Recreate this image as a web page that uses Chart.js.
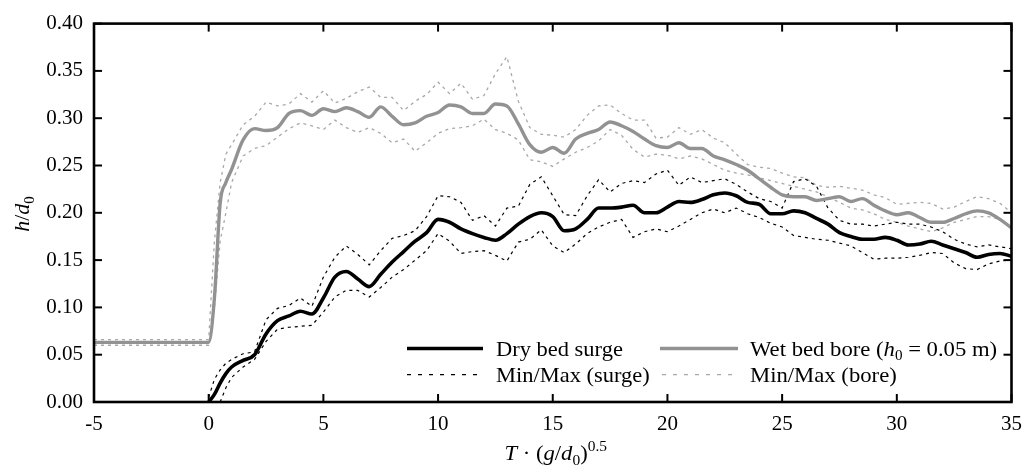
<!DOCTYPE html>
<html>
<head>
<meta charset="utf-8">
<script src="https://cdn.jsdelivr.net/npm/chart.js@4.4.0/dist/chart.umd.min.js"></script>
<style>
  html, body { margin: 0; padding: 0; background: #fff; }
</style>
</head>
<body>
<canvas id="chart" width="1032" height="466"></canvas>
<script>
// time axis, T·(g/d0)^0.5
var T = [-5, 0, 0.25, 0.5, 0.75,
  1, 1.5, 2, 2.5, 3, 3.5, 4, 4.5, 5,
  5.5, 6, 6.5, 7, 7.5, 8, 8.5, 9, 9.5, 10,
  10.5, 11, 11.5, 12, 12.5, 13, 13.5, 14, 14.5, 15,
  15.5, 16, 16.5, 17, 17.5, 18, 18.5, 19, 19.5, 20,
  20.5, 21, 21.5, 22, 22.5, 23, 23.5, 24, 24.5, 25,
  25.5, 26, 26.5, 27, 27.5, 28, 28.5, 29, 29.5, 30,
  30.5, 31, 31.5, 32, 32.5, 33, 33.5, 34, 34.5, 35];

// dry bed surge, h/d0
var dryMean = [null, 0, 0.008, 0.02, 0.03,
  0.037, 0.044, 0.05, 0.072, 0.086, 0.091, 0.096, 0.093, 0.11,
  0.132, 0.138, 0.13, 0.122, 0.135, 0.148, 0.159, 0.17, 0.179, 0.193,
  0.19, 0.183, 0.178, 0.174, 0.171, 0.178, 0.188, 0.196, 0.2, 0.196,
  0.181, 0.183, 0.193, 0.205, 0.205, 0.206, 0.208, 0.2, 0.2, 0.206,
  0.212, 0.211, 0.214, 0.219, 0.221, 0.218, 0.211, 0.209, 0.199, 0.199,
  0.202, 0.2, 0.194, 0.188, 0.179, 0.175, 0.172, 0.172, 0.174, 0.171,
  0.166, 0.167, 0.17, 0.166, 0.162, 0.158, 0.153, 0.156, 0.157, 0.154];
var dryMax = [null, 0.005, 0.024, 0.034, 0.041,
  0.045, 0.051, 0.053, 0.087, 0.099, 0.102, 0.11, 0.101, 0.132,
  0.153, 0.165, 0.156, 0.145, 0.16, 0.173, 0.176, 0.181, 0.196, 0.218,
  0.217, 0.211, 0.192, 0.197, 0.186, 0.205, 0.207, 0.23, 0.238, 0.218,
  0.198, 0.197, 0.218, 0.235, 0.222, 0.231, 0.234, 0.232, 0.241, 0.245,
  0.229, 0.238, 0.232, 0.234, 0.236, 0.23, 0.222, 0.215, 0.212, 0.205,
  0.233, 0.236, 0.228, 0.205, 0.192, 0.188, 0.188, 0.186, 0.188, 0.19,
  0.188, 0.188, 0.185, 0.18, 0.172, 0.167, 0.164, 0.166, 0.164, 0.162];
var dryMin = [null, null, null, 0, 0.015,
  0.026, 0.037, 0.045, 0.064, 0.077, 0.079, 0.08, 0.081, 0.095,
  0.111, 0.118, 0.118, 0.111, 0.121, 0.132, 0.14, 0.15, 0.16, 0.178,
  0.17, 0.157, 0.159, 0.16, 0.155, 0.149, 0.169, 0.172, 0.182, 0.165,
  0.158, 0.167, 0.178, 0.185, 0.19, 0.193, 0.174, 0.18, 0.183, 0.18,
  0.186, 0.193, 0.2, 0.204, 0.2, 0.205, 0.199, 0.195, 0.189, 0.185,
  0.176, 0.174, 0.172, 0.171, 0.168, 0.165, 0.158, 0.151, 0.152, 0.152,
  0.153, 0.155, 0.158, 0.157, 0.147, 0.141, 0.14, 0.146, 0.149, 0.15];

// wet bed bore (h0 = 0.05 m), h/d0
var wetMean = [0.063, 0.063, 0.11, 0.21, 0.232,
  0.246, 0.277, 0.289, 0.287, 0.29, 0.305, 0.308, 0.303, 0.31,
  0.307, 0.311, 0.307, 0.301, 0.312, 0.302, 0.293, 0.295, 0.302, 0.306,
  0.314, 0.312, 0.305, 0.305, 0.315, 0.313, 0.294, 0.272, 0.264, 0.269,
  0.263, 0.278, 0.284, 0.288, 0.296, 0.292, 0.286, 0.278, 0.271, 0.269,
  0.274, 0.268, 0.268, 0.26, 0.256, 0.251, 0.245, 0.236, 0.227, 0.219,
  0.217, 0.217, 0.213, 0.215, 0.217, 0.212, 0.215, 0.208, 0.202, 0.198,
  0.2, 0.195, 0.19, 0.19, 0.194, 0.199, 0.202, 0.2, 0.193, 0.184];
var wetMax = [0.066, 0.066, 0.17, 0.232, 0.262,
  0.272, 0.293, 0.302, 0.317, 0.313, 0.315, 0.326, 0.317, 0.329,
  0.316, 0.321, 0.328, 0.333, 0.322, 0.322, 0.308, 0.318, 0.325, 0.338,
  0.326, 0.337, 0.32, 0.324, 0.347, 0.365, 0.318, 0.29, 0.283, 0.282,
  0.28, 0.288, 0.303, 0.313, 0.314, 0.305, 0.298, 0.298, 0.279, 0.28,
  0.29, 0.283, 0.288, 0.279, 0.274, 0.262, 0.251, 0.248, 0.247, 0.242,
  0.238, 0.237, 0.229, 0.227, 0.228, 0.226, 0.224, 0.219, 0.216, 0.209,
  0.21, 0.211, 0.21, 0.204, 0.206, 0.212, 0.217, 0.215, 0.21, 0.2];
var wetMin = [0.06, 0.06, 0.1, 0.17, 0.2,
  0.232, 0.26, 0.268, 0.271, 0.28, 0.289, 0.295, 0.292, 0.288,
  0.298, 0.29, 0.285, 0.29, 0.284, 0.274, 0.278, 0.265, 0.274, 0.284,
  0.289, 0.29, 0.292, 0.299, 0.288, 0.284, 0.277, 0.256, 0.254, 0.249,
  0.257, 0.264, 0.269, 0.276, 0.288, 0.282, 0.267, 0.259, 0.262, 0.261,
  0.257, 0.26, 0.257, 0.251, 0.245, 0.242, 0.24, 0.237, 0.234, 0.231,
  0.228, 0.225, 0.222, 0.217, 0.211, 0.205, 0.203, 0.199, 0.193, 0.19,
  0.186, 0.183, 0.18, 0.184, 0.19, 0.193, 0.196, 0.196, 0.193, 0.183];

var FONT = '"Liberation Serif", "Times New Roman", serif';
var BLACK = '#000000';
var GREY = '#929292';
var GREY_DOT = '#a8a8a8';

function pts(arr) {
  return T.map(function (x, i) { return { x: x, y: arr[i] }; });
}

// draws text made of runs (italic, subscript, superscript)
function drawRuns(ctx, runs, x, y, size, align, sx) {
  sx = sx || 1;
  function fontOf(r) {
    var s = (r.sub || r.sup) ? Math.round(size * 0.68) : size;
    return (r.it ? 'italic ' : '') + s + 'px ' + FONT;
  }
  var w = 0;
  runs.forEach(function (r) {
    ctx.font = fontOf(r);
    r.w = ctx.measureText(r.t).width;
    w += r.w;
  });
  ctx.save();
  ctx.translate(x, y);
  ctx.scale(sx, 1);
  var cx = align === 'center' ? -w / 2 : 0;
  runs.forEach(function (r) {
    ctx.font = fontOf(r);
    var dy = r.sub ? size * 0.22 : (r.sup ? -size * 0.42 : 0);
    ctx.fillText(r.t, cx, dy);
    cx += r.w;
  });
  ctx.restore();
}

function seg(ctx, x1, y1, x2, y2) {
  ctx.beginPath();
  ctx.moveTo(x1, y1);
  ctx.lineTo(x2, y2);
  ctx.stroke();
}

var framePlugin = {
  id: 'frame',
  afterDraw: function (chart) {
    var ctx = chart.ctx, a = chart.chartArea;
    var xs = chart.scales.x, ys = chart.scales.y;
    ctx.save();
    ctx.strokeStyle = BLACK;
    ctx.lineWidth = 2;
    xs.ticks.forEach(function (t) {
      var px = xs.getPixelForValue(t.value);
      seg(ctx, px, a.bottom, px, a.bottom - 8);
      seg(ctx, px, a.top, px, a.top + 8);
    });
    ys.ticks.forEach(function (t) {
      var py = ys.getPixelForValue(t.value);
      seg(ctx, a.left, py, a.left + 8, py);
      seg(ctx, a.right, py, a.right - 8, py);
    });
    ctx.lineWidth = 2.6;
    ctx.strokeRect(a.left, a.top, a.right - a.left, a.bottom - a.top);

    // legend
    ctx.fillStyle = BLACK;
    ctx.textBaseline = 'alphabetic';
    var r1 = a.top + 325, r2 = a.top + 351;
    var c1 = a.left + 313, c2 = a.left + 566;
    ctx.lineWidth = 3.5;
    ctx.strokeStyle = BLACK;
    seg(ctx, c1, r1, c1 + 76, r1);
    ctx.strokeStyle = GREY;
    seg(ctx, c2, r1, c2 + 78, r1);
    ctx.lineWidth = 1.3;
    ctx.setLineDash([4, 7]);
    ctx.strokeStyle = BLACK;
    seg(ctx, c1, r2, c1 + 76, r2);
    ctx.strokeStyle = GREY_DOT;
    seg(ctx, c2 + 2, r2, c2 + 78, r2);
    ctx.setLineDash([]);
    drawRuns(ctx, [{ t: 'Dry bed surge' }], c1 + 89, r1 + 7, 21, 'left', 1.07);
    drawRuns(ctx, [{ t: 'Min/Max (surge)' }], c1 + 89, r2 + 7, 21, 'left', 1.07);
    drawRuns(ctx, [{ t: 'Wet bed bore (' }, { t: 'h', it: true }, { t: '0', sub: true },
      { t: ' = 0.05 m)' }], c2 + 90, r1 + 7, 21, 'left', 1.08);
    drawRuns(ctx, [{ t: 'Min/Max (bore)' }], c2 + 90, r2 + 7, 21, 'left', 1.08);

    // axis titles
    drawRuns(ctx, [{ t: 'T', it: true }, { t: ' \u00b7 (' }, { t: 'g', it: true }, { t: '/' },
      { t: 'd', it: true }, { t: '0', sub: true }, { t: ')' }, { t: '0.5', sup: true }],
      (a.left + a.right) / 2 + 3, 460, 22, 'center', 1.03);
    ctx.save();
    ctx.translate(29, 214);
    ctx.rotate(-Math.PI / 2);
    drawRuns(ctx, [{ t: 'h', it: true }, { t: '/' }, { t: 'd', it: true }, { t: '0', sub: true }],
      0, 0, 22, 'center');
    ctx.restore();
    ctx.restore();
  }
};

Chart.defaults.font.family = FONT;
Chart.defaults.font.size = 21;
Chart.defaults.color = BLACK;

new Chart(document.getElementById('chart'), {
  type: 'line',
  data: {
    datasets: [
      { label: 'Dry bed surge', data: pts(dryMean), borderColor: BLACK, borderWidth: 3.6,
        cubicInterpolationMode: 'monotone', order: 0 },
      { label: 'Wet bed bore', data: pts(wetMean), borderColor: GREY, borderWidth: 3.4,
        cubicInterpolationMode: 'monotone', order: 1 },
      { label: 'Max (surge)', data: pts(dryMax), borderColor: BLACK, borderWidth: 1.2,
        borderDash: [3, 4], order: 2 },
      { label: 'Min (surge)', data: pts(dryMin), borderColor: BLACK, borderWidth: 1.2,
        borderDash: [3, 4], order: 2 },
      { label: 'Max (bore)', data: pts(wetMax), borderColor: GREY_DOT, borderWidth: 1.3,
        borderDash: [3, 4], order: 3 },
      { label: 'Min (bore)', data: pts(wetMin), borderColor: GREY_DOT, borderWidth: 1.3,
        borderDash: [3, 4], order: 3 }
    ]
  },
  options: {
    responsive: false,
    animation: false,
    layout: { padding: { top: 19, right: 10, left: 0, bottom: 0 } },
    elements: { point: { radius: 0 }, line: { tension: 0, fill: false } },
    plugins: { legend: { display: false }, tooltip: { enabled: false } },
    scales: {
      x: {
        type: 'linear', min: -5, max: 35,
        grid: { display: false, drawTicks: false },
        border: { display: false },
        ticks: { stepSize: 5, padding: 10, maxRotation: 0,
          callback: function (v) { return String(v); } },
        afterFit: function (s) { s.height = 64; }
      },
      y: {
        min: 0, max: 0.4,
        grid: { display: false, drawTicks: false },
        border: { display: false },
        ticks: { stepSize: 0.05, padding: 11,
          callback: function (v) { return v.toFixed(2); } },
        afterFit: function (s) { s.width = 94; }
      }
    }
  },
  plugins: [framePlugin]
});
</script>
</body>
</html>
